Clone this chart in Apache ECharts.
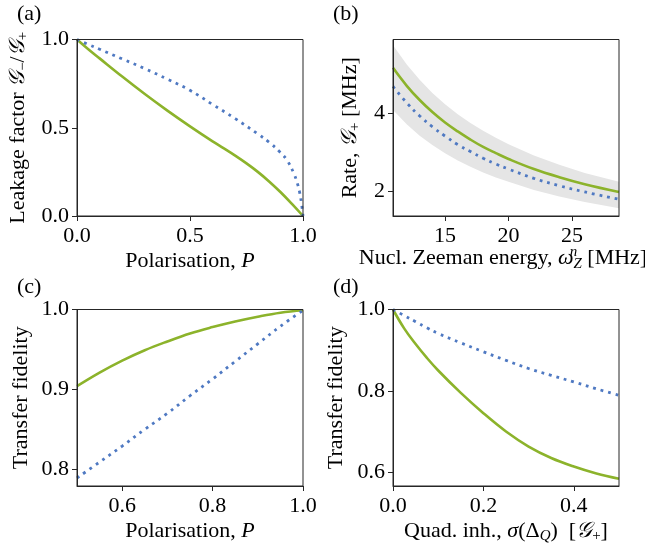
<!DOCTYPE html>
<html>
<head>
<meta charset="utf-8">
<script src="https://cdn.jsdelivr.net/npm/echarts@6/dist/echarts.min.js"></script>
<style>
html,body{margin:0;padding:0;background:#fff;}
#c{width:645px;height:545px;}
</style>
</head>
<body>
<div id="c"></div>
<script>
// ---------- data ----------
// (a) leakage factor vs polarisation
const aGreenP = [0, 0.05, 0.1, 0.2, 0.3, 0.4, 0.5, 0.6, 0.65, 0.7, 0.75, 0.8, 0.85, 0.9, 0.95, 1.0];
const aGreen  = [1.0, 0.945, 0.893, 0.79, 0.691, 0.597, 0.508, 0.423, 0.383, 0.342, 0.298, 0.25, 0.196, 0.136, 0.07, 0.0];
const aBlueP  = [0, 0.05, 0.1, 0.2, 0.3, 0.4, 0.5, 0.6, 0.7, 0.8, 0.85, 0.9, 0.93, 0.96, 0.975, 0.985, 0.994, 1.0];
const aBlue   = [1.0, 0.972, 0.945, 0.89, 0.835, 0.775, 0.712, 0.632, 0.552, 0.465, 0.418, 0.36, 0.315, 0.24, 0.185, 0.135, 0.065, 0.0];
const aXTicks = [0, 0.5, 1.0];
const aYTicks = [0, 0.5, 1.0];

// (b) rate vs nuclear Zeeman energy
const bX     = [10.9, 12, 13, 14, 15, 16, 17, 18, 19, 20, 22, 24, 26, 28.7];
const bGreen = [5.17, 4.70, 4.34, 4.03, 3.76, 3.53, 3.32, 3.13, 2.97, 2.82, 2.56, 2.35, 2.17, 1.97];
const bBlue  = [4.69, 4.26, 3.93, 3.65, 3.41, 3.19, 3.01, 2.84, 2.69, 2.56, 2.32, 2.13, 1.97, 1.78];
const bUpper = [5.75, 5.25, 4.86, 4.52, 4.23, 3.97, 3.75, 3.55, 3.37, 3.20, 2.91, 2.67, 2.46, 2.23];
const bLower = [4.08, 3.71, 3.42, 3.18, 2.97, 2.78, 2.62, 2.47, 2.34, 2.23, 2.02, 1.85, 1.71, 1.55];
const bXTicks = [15, 20, 25];
const bYTicks = [2, 4];

// (c) transfer fidelity vs polarisation
const cP     = [0.5, 0.55, 0.6, 0.65, 0.7, 0.75, 0.8, 0.85, 0.9, 0.95, 1.0];
const cGreen = [0.904, 0.921, 0.936, 0.949, 0.960, 0.970, 0.978, 0.985, 0.991, 0.996, 0.999];
const cBlue  = [0.789, 0.809, 0.829, 0.850, 0.870, 0.892, 0.913, 0.935, 0.957, 0.979, 0.999];
const cXTicks = [0.6, 0.8, 1.0];
const cYTicks = [0.8, 0.9, 1.0];

// (d) transfer fidelity vs quadrupolar inhomogeneity
const dX     = [0, 0.025, 0.05, 0.075, 0.1, 0.15, 0.2, 0.25, 0.3, 0.35, 0.4, 0.45, 0.5];
const dGreen = [1.0, 0.953, 0.915, 0.881, 0.850, 0.795, 0.745, 0.700, 0.663, 0.635, 0.614, 0.597, 0.584];
const dBlue  = [1.0, 0.985, 0.970, 0.955, 0.941, 0.918, 0.896, 0.875, 0.855, 0.838, 0.822, 0.805, 0.789];
const dXTicks = [0, 0.2, 0.4];
const dYTicks = [0.6, 0.8, 1.0];

const panelLabels = ['(a)', '(b)', '(c)', '(d)'];

// ---------- style ----------
const FONT = '"Liberation Serif", "DejaVu Serif", serif';
const FS = 22;
const SFS = 15;
const GREEN = '#8cb32b';
const BLUE = '#4f79c2';
const BAND = '#e5e5e5';
const AX = '#262626';

const rich = {
  i:   {fontFamily: FONT, fontSize: FS, fontStyle: 'italic', fill: '#000', color: '#000'},
  g:   {fontFamily: FONT, fontSize: FS, fontStyle: 'italic', fill: '#000', color: '#000'},
  sub: {fontFamily: FONT, fontSize: SFS, lineHeight: 14, verticalAlign: 'bottom', fill: '#000', color: '#000'},
  subi:{fontFamily: FONT, fontSize: SFS, lineHeight: 14, fontStyle: 'italic', verticalAlign: 'bottom', fill: '#000', color: '#000'},
  sup0:{fontFamily: FONT, fontSize: SFS, lineHeight: 14, fontStyle: 'italic', verticalAlign: 'top', fill: '#000', color: '#000', width: 0}
};

const zip = (xs, ys) => xs.map((x, k) => [x, ys[k]]);

const grids = [
  {left: 77,  top: 39.5,  width: 226, height: 176.5},
  {left: 393, top: 39.5,  width: 226, height: 176.5},
  {left: 77,  top: 309.5, width: 226, height: 176.5},
  {left: 393, top: 309.5, width: 226, height: 176.5}
].map(g => Object.assign({show: true, borderColor: AX, borderWidth: 1, backgroundColor: 'transparent', z: 6}, g));

function xAxis(idx, min, max, ticks, fmt, name, gap) {
  return {
    type: 'value', gridIndex: idx, min: min, max: max, z: 6,
    name: name, nameLocation: 'middle', nameGap: gap,
    nameTextStyle: {fontFamily: FONT, fontSize: FS, lineHeight: 26, color: '#000', rich: rich},
    axisLine: {show: true, lineStyle: {color: AX, width: 1}},
    axisTick: {show: true, length: 5, lineStyle: {color: AX, width: 1}, customValues: ticks},
    axisLabel: {fontFamily: FONT, fontSize: FS, color: '#000', margin: 9, customValues: ticks, formatter: fmt},
    splitLine: {show: false}
  };
}
function yAxis(idx, min, max, ticks, fmt, name, gap) {
  return {
    type: 'value', gridIndex: idx, min: min, max: max, z: 6,
    name: name, nameLocation: 'middle', nameGap: gap,
    nameTextStyle: {fontFamily: FONT, fontSize: FS, lineHeight: 26, color: '#000', rich: rich},
    axisLine: {show: true, lineStyle: {color: AX, width: 1}},
    axisTick: {show: true, length: 5, lineStyle: {color: AX, width: 1}, customValues: ticks},
    axisLabel: {fontFamily: FONT, fontSize: FS, color: '#000', margin: 8, customValues: ticks, formatter: fmt},
    splitLine: {show: false}
  };
}
const f1 = v => Number(v).toFixed(1);
const f0 = v => String(Math.round(v));

function solid(idx, data) {
  return {type: 'line', xAxisIndex: idx, yAxisIndex: idx, data: data, symbol: 'none',
    smooth: 0.4, z: 4,
    lineStyle: {color: GREEN, width: 2.6}};
}
function dotted(idx, data) {
  return {type: 'line', xAxisIndex: idx, yAxisIndex: idx, data: data, symbol: 'none',
    smooth: 0.4, z: 5,
    lineStyle: {color: BLUE, width: 2.8, type: [2.8, 4.9], cap: 'butt'}};
}

const option = {
  animation: false,
  backgroundColor: '#fff',
  title: panelLabels.map((t, k) => ({
    text: t, left: k % 2 === 0 ? 17 : 333, top: k < 2 ? 3 : 276, padding: 0,
    textStyle: {fontFamily: FONT, fontSize: FS, fontWeight: 'normal', color: '#000'}
  })),
  graphic: [{
    type: 'text', x: 503, y: 258, z: 10,
    style: {
      text: 'Nucl. Zeeman energy, {i|ω}{sup0|n}{subi|Z} [MHz]',
      rich: rich, fontFamily: FONT, fontSize: FS, lineHeight: 27, fill: '#000',
      align: 'center', verticalAlign: 'middle'
    }
  }],
  grid: grids,
  xAxis: [
    xAxis(0, 0, 1, aXTicks, f1, 'Polarisation, {i|P}', 29),
    xAxis(1, 10.9, 28.7, bXTicks, f0, '', 29),
    xAxis(2, 0.5, 1.0, cXTicks, f1, 'Polarisation, {i|P}', 30),
    xAxis(3, 0, 0.5, dXTicks, f1, 'Quad. inh., {i|σ}(Δ{subi|Q})  [{g|𝒢}{sub|+}]', 29)
  ],
  yAxis: [
    yAxis(0, 0, 1, aYTicks, f1, 'Leakage factor {g|𝒢}{sub|−}/{g|𝒢}{sub|+}', 46),
    yAxis(1, 1.35, 5.9, bYTicks, f0, 'Rate, {g|𝒢}{sub|+} [MHz]', 30),
    yAxis(2, 0.779, 1.0, cYTicks, f1, 'Transfer fidelity', 43),
    yAxis(3, 0.566, 1.0, dYTicks, f1, 'Transfer fidelity', 44)
  ],
  series: [
    solid(0, zip(aGreenP, aGreen)),
    dotted(0, zip(aBlueP, aBlue)),
    {
      type: 'custom', xAxisIndex: 1, yAxisIndex: 1, z: 1, clip: true,
      data: [[bX[0], bUpper[0]]],
      renderItem: function (params, api) {
        const pts = [];
        for (let k = 0; k < bX.length; k++) pts.push(api.coord([bX[k], bUpper[k]]));
        for (let k = bX.length - 1; k >= 0; k--) pts.push(api.coord([bX[k], bLower[k]]));
        return {type: 'polygon', shape: {points: pts}, style: {fill: BAND}};
      }
    },
    solid(1, zip(bX, bGreen)),
    dotted(1, zip(bX, bBlue)),
    solid(2, zip(cP, cGreen)),
    dotted(2, zip(cP, cBlue)),
    solid(3, zip(dX, dGreen)),
    dotted(3, zip(dX, dBlue))
  ]
};

const chart = echarts.init(document.getElementById('c'), null, {renderer: 'canvas'});
chart.setOption(option);
</script>
</body>
</html>
